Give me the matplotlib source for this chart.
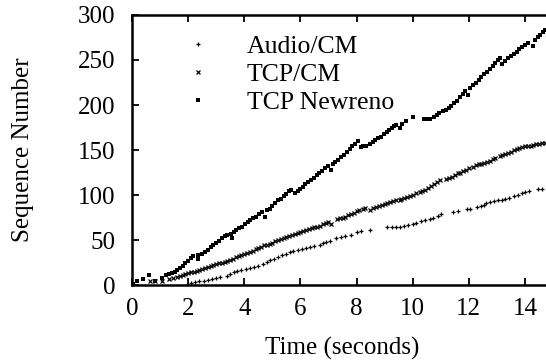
import matplotlib
matplotlib.use("Agg")
import matplotlib.pyplot as plt

plt.rcParams['font.family'] = ['Liberation Serif', 'DejaVu Serif']
plt.rcParams['font.size'] = 18

# Audio/CM packets (time in seconds, sequence number)
audio_t = [2.10, 2.24, 2.40, 2.55, 2.70, 2.85, 3.00, 3.15, 3.37, 3.50, 3.62, 3.75, 3.90, 4.05,
           4.20, 4.35, 4.50, 4.65, 4.80, 4.91, 5.05, 5.20, 5.35, 5.50, 5.62, 5.75, 5.90, 6.05,
           6.20, 6.35, 6.50, 6.69, 6.80, 6.90, 7.05, 7.28, 7.45, 7.60, 7.80, 8.00, 8.15, 8.47,
           9.10, 9.25, 9.40, 9.55, 9.70, 9.85, 10.00, 10.13, 10.30, 10.45, 10.60, 10.72, 10.90,
           11.00, 11.44, 11.60, 11.95, 12.05, 12.30, 12.45, 12.55, 12.62, 12.75, 12.90, 13.05,
           13.20, 13.30, 13.45, 13.60, 13.75, 13.90, 14.00, 14.16, 14.45, 14.60]
audio_seq = [2, 3, 4, 5, 6, 7, 8, 9, 10, 12, 14, 16, 17, 18,
             19, 20, 21, 23, 26, 28, 29, 31, 33, 35, 37, 38, 39, 40,
             41, 42, 43, 45, 47, 48, 49, 52, 53, 55, 56, 59, 60, 61,
             64, 65, 65, 65, 66, 67, 68, 69, 71, 72, 73, 74, 77,
             79, 81, 82, 85, 85, 87, 88, 89, 91, 92, 93, 94,
             95, 96, 97, 99, 100, 102, 103, 105, 107, 107]

# TCP/CM packets
tcpcm_t = [0.64, 0.82, 1.06, 1.30, 1.45, 1.59, 1.70, 1.80, 1.90, 2.00, 2.10, 2.20, 2.30, 2.40,
           2.50, 2.60, 2.70, 2.80, 2.90, 3.00, 3.10, 3.20, 3.30, 3.40, 3.50, 3.60, 3.70, 3.80,
           3.90, 4.00, 4.10, 4.20, 4.30, 4.40, 4.50, 4.60, 4.70, 4.80, 4.91, 5.00, 5.10, 5.20,
           5.30, 5.40, 5.50, 5.60, 5.70, 5.80, 5.90, 5.98, 6.10, 6.20, 6.30, 6.40, 6.50, 6.60,
           6.70, 6.80, 6.90, 6.99, 7.10, 7.30, 7.40, 7.50, 7.60, 7.70, 7.80, 7.90, 8.00, 8.10,
           8.23, 8.30, 8.47, 8.60, 8.71, 8.80, 8.90, 9.00, 9.10, 9.20, 9.30, 9.40, 9.54, 9.60,
           9.70, 9.80, 9.90, 10.00, 10.13, 10.25, 10.35, 10.45, 10.55, 10.65, 10.75, 10.85,
           10.96, 11.20, 11.30, 11.40, 11.50, 11.60, 11.70, 11.80, 11.90, 12.00, 12.15, 12.25,
           12.35, 12.45, 12.55, 12.65, 12.75, 12.85, 12.95, 13.10, 13.20, 13.30, 13.40, 13.50,
           13.60, 13.70, 13.80, 13.90, 14.00, 14.10, 14.20, 14.30, 14.40, 14.50, 14.60, 14.70]
tcpcm_seq = [5, 5, 5, 7, 8, 9, 10, 11, 12, 13, 14, 15, 16, 17,
             18, 19, 20, 21, 22, 23, 24, 25, 26, 27, 28, 29, 31, 32,
             33, 35, 36, 37, 38, 40, 41, 42, 44, 45, 46, 47, 49, 50,
             51, 52, 53, 55, 56, 57, 58, 59, 60, 61, 62, 63, 64, 65,
             66, 68, 69, 70, 68, 73, 74, 75, 76, 78, 79, 80, 82, 83,
             85, 86, 83, 86, 87, 88, 89, 90, 91, 92, 93, 94, 95, 96,
             97, 98, 99, 100, 102, 103, 105, 106, 108, 110, 112, 114,
             117, 118, 119, 120, 122, 124, 125, 127, 128, 130, 131, 133,
             134, 135, 136, 137, 138, 140, 141, 143, 144, 146, 147, 148,
             150, 151, 152, 153, 154, 154, 155, 156, 157, 157, 158, 158]

# TCP Newreno packets
newreno_t = [0.05, 0.17, 0.40, 0.62, 0.82, 1.06, 1.21, 1.32, 1.41, 1.52, 1.62, 1.71, 1.80, 1.90,
             2.00, 2.10, 2.18, 2.36, 2.36, 2.50, 2.60, 2.70, 2.80, 2.90, 3.00, 3.10, 3.20, 3.30,
             3.37, 3.51, 3.55, 3.65, 3.72, 3.82, 3.92, 4.02, 4.12, 4.22, 4.32, 4.42, 4.52, 4.62,
             4.73, 4.80, 4.91, 5.00, 5.10, 5.20, 5.30, 5.40, 5.50, 5.60, 5.68, 5.80, 5.90, 5.98,
             6.08, 6.18, 6.28, 6.38, 6.48, 6.58, 6.68, 6.78, 6.88, 6.99, 7.10, 7.15, 7.25, 7.35,
             7.45, 7.55, 7.65, 7.75, 7.85, 7.95, 8.05, 8.15, 8.23, 8.35, 8.47, 8.57, 8.67, 8.77,
             8.87, 8.97, 9.07, 9.17, 9.27, 9.35, 9.42, 9.54, 9.62, 9.77, 10.00, 10.40, 10.49,
             10.60, 10.75, 10.85, 10.95, 11.08, 11.18, 11.28, 11.38, 11.48, 11.58, 11.68, 11.78,
             11.88, 11.98, 12.05, 12.15, 12.25, 12.35, 12.45, 12.55, 12.65, 12.75, 12.85, 12.95,
             13.05, 13.10, 13.20, 13.30, 13.40, 13.50, 13.60, 13.70, 13.80, 13.90, 14.00, 14.10,
             14.30, 14.35, 14.45, 14.55, 14.65, 14.72]
newreno_seq = [1, 4, 7, 11, 5, 8, 11, 12, 13, 15, 17, 19, 21, 24,
               27, 30, 32, 33, 29, 35, 37, 39, 42, 45, 47, 49, 52, 54,
               56, 57, 52, 59, 61, 63, 65, 68, 70, 72, 74, 76, 79, 81,
               76, 83, 85, 88, 91, 94, 96, 99, 101, 104, 106, 102, 105, 107,
               109, 112, 114, 117, 119, 122, 124, 127, 130, 132, 128, 134, 137, 139,
               142, 145, 148, 151, 154, 157, 160, 153, 154, 155, 157, 159, 161, 163,
               165, 168, 170, 172, 175, 177, 178, 174, 179, 182, 187, 184, 184,
               185, 187, 189, 191, 193, 195, 197, 199, 202, 205, 209, 212,
               216, 211, 219, 222, 225, 228, 231, 234, 237, 240, 243, 247,
               250, 252, 245, 249, 252, 254, 257, 259, 262, 264, 267, 269,
               265, 272, 275, 278, 281, 283]

fig = plt.figure(figsize=(5.46, 3.64), dpi=100)
# the original plot runs to x=15, the right part is cut off by the image edge
ax = fig.add_axes([0.2418, 0.217, 0.771, 0.7418])

ax.plot(audio_t, audio_seq, '+', color='black', markersize=3, markeredgewidth=0.9,
        label='Audio/CM')
ax.plot(tcpcm_t, tcpcm_seq, 'x', color='black', markersize=2.8, markeredgewidth=0.9,
        label='TCP/CM')
ax.plot(newreno_t, newreno_seq, 's', color='black', markersize=3.4, markeredgewidth=0,
        label='TCP Newreno')

ax.set_xlim(0, 15)
ax.set_ylim(0, 300)
ax.set_xticks(range(0, 15, 2))
ax.set_yticks(range(0, 301, 50))
ax.tick_params(direction='in', top=True, right=True, length=5, width=1.3, labelsize=18)
ax.tick_params(axis='x', pad=9)
ax.tick_params(axis='y', pad=12)
for s in ax.spines.values():
    s.set_linewidth(1.8)

ax.set_xlabel('Time (seconds)', fontsize=18)
ax.set_ylabel('Sequence Number', fontsize=18)
ax.xaxis.set_label_coords(0.5, -0.194)
ax.yaxis.set_label_coords(-0.233, 0.5)

ax.legend(loc='upper left', bbox_to_anchor=(0.132, 0.925), frameon=False, borderpad=0,
          borderaxespad=0, handlelength=0.8, handletextpad=1.5, labelspacing=0.2,
          markerscale=1.0, fontsize=18.5)

fig.savefig('out.png', dpi=100)
